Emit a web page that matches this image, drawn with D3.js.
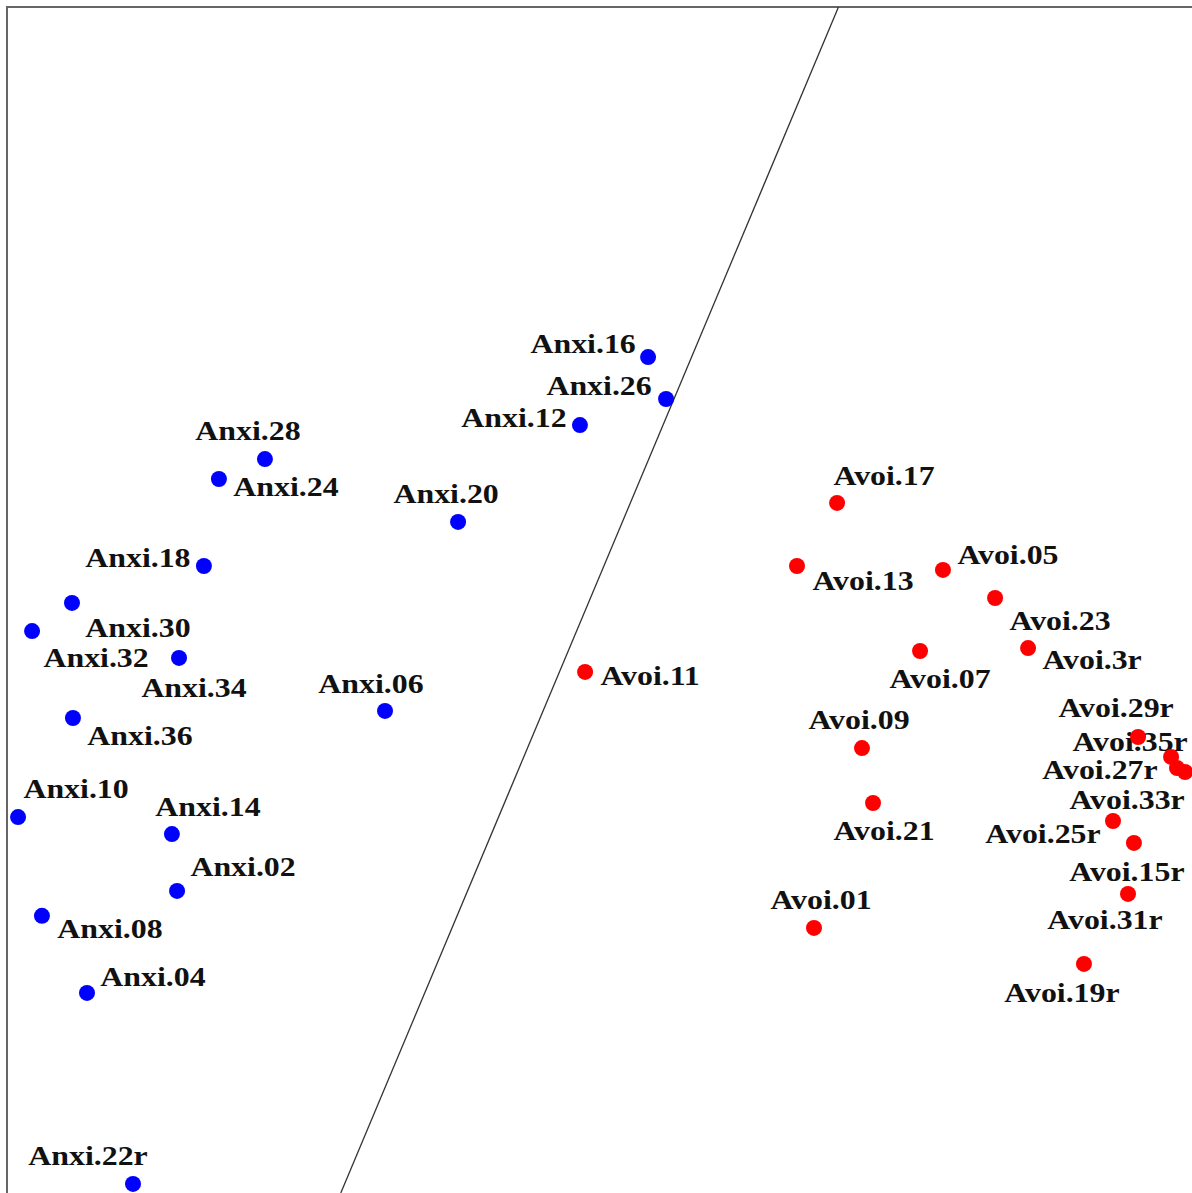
<!DOCTYPE html>
<html>
<head>
<meta charset="utf-8">
<script src="https://cdn.jsdelivr.net/npm/d3@7"></script>
<style>
  html, body { margin: 0; padding: 0; background: #fff; }
  svg { display: block; }
  .lbl { font-family: "Liberation Serif", "Times New Roman", serif; font-weight: bold; font-size: 27px; fill: #111; }
</style>
</head>
<body>
<div id="chart"></div>
<script>
// group 1 (blue)
var anxiNames = ["Anxi.16", "Anxi.26", "Anxi.12", "Anxi.28", "Anxi.24", "Anxi.20", "Anxi.18", "Anxi.30", "Anxi.32",
    "Anxi.34", "Anxi.06", "Anxi.36", "Anxi.10", "Anxi.14", "Anxi.02", "Anxi.08", "Anxi.04", "Anxi.22r"];
var anxiX = [0.246, 0.337, -0.099, -1.694, -1.927, -0.716, -2.003, -2.671, -2.873,
    -2.129, -1.086, -2.666, -2.944, -2.165, -2.139, -2.823, -2.595, -2.362];
var anxiY = [1.229, 1.017, 0.885, 0.713, 0.612, 0.395, 0.172, -0.015, -0.157,
    -0.293, -0.561, -0.597, -1.098, -1.184, -1.472, -1.598, -1.988, -2.954];

// group 2 (red)
var avoiNames = ["Avoi.17", "Avoi.13", "Avoi.05", "Avoi.23", "Avoi.07", "Avoi.3r", "Avoi.11", "Avoi.09", "Avoi.21",
    "Avoi.01", "Avoi.29r", "Avoi.35r", "Avoi.27r", "Avoi.33r", "Avoi.25r", "Avoi.15r", "Avoi.31r", "Avoi.19r"];
var avoiX = [1.203, 1.0, 1.739, 2.003, 1.623, 2.170, -0.073, 1.329, 1.385,
    1.086, 2.727, 2.894, 2.924, 2.965, 2.600, 2.706, 2.676, 2.453];
var avoiY = [0.491, 0.172, 0.152, 0.010, -0.258, -0.243, -0.364, -0.749, -1.027,
    -1.659, -0.693, -0.794, -0.850, -0.870, -1.118, -1.229, -1.487, -1.841];

// separating line, two points in data units
var sepX = [1.21, -1.31];
var sepY = [3, -3];

// label placement (pixel nudges from the point, like a repel layout)
var labelNudge = {
    "Anxi.16": [-65, -4], "Anxi.26": [-67, -4], "Anxi.12": [-66, 2], "Anxi.28": [-17, -19],
    "Anxi.24": [67, 17], "Anxi.20": [-12, -19], "Anxi.18": [-66, 1], "Anxi.30": [66, 34],
    "Anxi.32": [64, 36], "Anxi.34": [15, 39], "Anxi.06": [-14, -18], "Anxi.36": [67, 27],
    "Anxi.10": [58, -19], "Anxi.14": [36, -18], "Anxi.02": [66, -15], "Anxi.08": [68, 22],
    "Anxi.04": [66, -7], "Anxi.22r": [-45, -19],
    "Avoi.17": [47, -18], "Avoi.13": [66, 24], "Avoi.05": [65, -6], "Avoi.23": [65, 32],
    "Avoi.07": [20, 37], "Avoi.3r": [64, 21], "Avoi.11": [65, 13], "Avoi.09": [-3, -19],
    "Avoi.21": [11, 37], "Avoi.01": [7, -19], "Avoi.29r": [-22, -20], "Avoi.35r": [-41, -6],
    "Avoi.27r": [-77, 11], "Avoi.33r": [-58, 37], "Avoi.25r": [-70, 22], "Avoi.15r": [-7, 38],
    "Avoi.31r": [-23, 35], "Avoi.19r": [-22, 38]
};

var ctx = { w: 1192, h: 1193, left: 7, top: 7, r: 8 };

var points = anxiNames.map((n, i) => ({ name: n, x: anxiX[i], y: anxiY[i], col: "#0000ff" }))
    .concat(avoiNames.map((n, i) => ({ name: n, x: avoiX[i], y: avoiY[i], col: "#ff0000" })));

var xScale = d3.scaleLinear().domain([-3, 3]).range([ctx.left, ctx.w]);
var yScale = d3.scaleLinear().domain([-3, 3]).range([ctx.h, ctx.top]);

var svgEl = d3.select("#chart").append("svg")
    .attr("width", ctx.w)
    .attr("height", ctx.h);

svgEl.append("defs").append("clipPath").attr("id", "plotClip")
    .append("rect")
    .attr("x", ctx.left).attr("y", ctx.top)
    .attr("width", ctx.w - ctx.left + 10).attr("height", ctx.h - ctx.top + 10);

// frame (right and bottom edges fall outside the picture)
svgEl.append("rect")
    .attr("x", ctx.left).attr("y", ctx.top)
    .attr("width", ctx.w)
    .attr("height", ctx.h)
    .attr("fill", "none")
    .attr("stroke", "#666")
    .attr("stroke-width", 2);

var plotG = svgEl.append("g").attr("clip-path", "url(#plotClip)");

plotG.append("line")
    .attr("x1", xScale(sepX[0])).attr("y1", yScale(sepY[0]))
    .attr("x2", xScale(sepX[1])).attr("y2", yScale(sepY[1]))
    .attr("stroke", "#333")
    .attr("stroke-width", 1.3);

// labels first, dots go on top (as in the original)
plotG.selectAll("text.lbl")
    .data(points)
    .enter()
    .append("text")
    .attr("class", "lbl")
    .attr("text-anchor", "middle")
    .attr("transform", d => "translate(" + (xScale(d.x) + labelNudge[d.name][0]) + "," +
        (yScale(d.y) + labelNudge[d.name][1]) + ") scale(1.18,1)")
    .text(d => d.name);

plotG.selectAll("circle")
    .data(points)
    .enter()
    .append("circle")
    .attr("cx", d => xScale(d.x))
    .attr("cy", d => yScale(d.y))
    .attr("r", ctx.r)
    .attr("fill", d => d.col);
</script>
</body>
</html>
